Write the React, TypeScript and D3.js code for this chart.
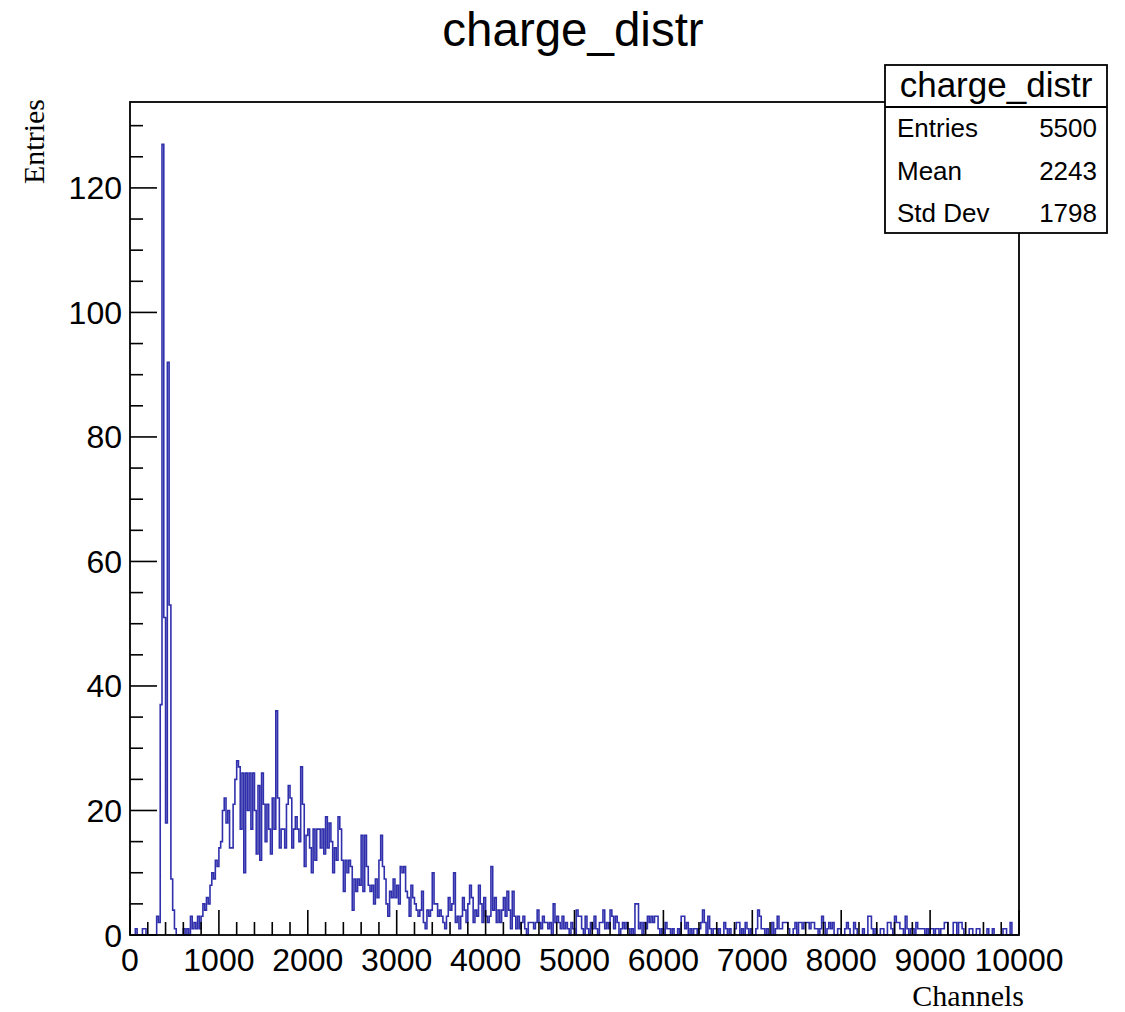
import React from "react";
import * as d3 from "d3";

// Histogram "charge_distr": 500 bins of width 20 over 0..10000 channels.
const X_MIN = 0;
const X_MAX = 10000;
const BIN_WIDTH = 20;

const counts0to1k = [
  0, 0, 0, 1, 0, 0, 0, 1, 1, 0,
  0, 0, 0, 0, 0, 3, 2, 37, 127, 51,
  18, 92, 53, 9, 4, 1, 0, 0, 0, 0,
  1, 0, 1, 0, 3, 1, 2, 1, 3, 1,
  3, 5, 4, 6, 5, 8, 10, 9, 12, 11,
];
const counts1to2k = [
  14, 15, 20, 22, 18, 20, 14, 14, 21, 25,
  28, 27, 17, 26, 10, 26, 20, 26, 17, 26,
  20, 13, 24, 12, 26, 21, 15, 21, 17, 13,
  22, 17, 36, 22, 14, 17, 17, 14, 21, 24,
  22, 14, 17, 19, 17, 15, 27, 21, 11, 16,
];
const counts2to3k = [
  17, 14, 10, 17, 12, 17, 17, 14, 17, 13,
  19, 14, 18, 15, 10, 14, 12, 19, 17, 12,
  7, 12, 10, 12, 11, 4, 9, 7, 9, 8,
  16, 7, 16, 11, 8, 7, 8, 5, 9, 6,
  12, 16, 11, 9, 5, 3, 7, 6, 9, 6,
];
const counts3to4k = [
  8, 5, 11, 10, 11, 7, 6, 3, 8, 6,
  5, 4, 3, 4, 7, 2, 1, 4, 3, 4,
  10, 5, 5, 3, 4, 3, 2, 1, 3, 6,
  4, 5, 10, 2, 3, 1, 3, 6, 4, 2,
  5, 8, 6, 2, 4, 3, 8, 5, 2, 6,
];
const counts4to5k = [
  3, 2, 3, 11, 4, 6, 2, 4, 2, 4,
  6, 3, 7, 4, 1, 7, 3, 1, 3, 1,
  2, 3, 1, 0, 2, 2, 2, 1, 2, 4,
  2, 1, 3, 2, 2, 1, 2, 0, 5, 2,
  3, 2, 1, 3, 1, 2, 1, 0, 2, 1,
];
const counts5to6k = [
  0, 4, 3, 3, 1, 0, 3, 1, 0, 2,
  1, 3, 1, 0, 2, 2, 4, 1, 2, 1,
  4, 3, 1, 3, 2, 0, 1, 2, 1, 2,
  1, 0, 1, 0, 5, 5, 1, 2, 0, 2,
  1, 3, 2, 3, 2, 3, 3, 1, 0, 1,
];
const counts6to7k = [
  0, 2, 1, 1, 0, 1, 0, 0, 1, 0,
  3, 3, 1, 2, 0, 1, 0, 1, 1, 0,
  1, 2, 4, 2, 0, 3, 1, 0, 1, 1,
  0, 1, 0, 0, 2, 1, 0, 1, 0, 0,
  1, 2, 2, 0, 1, 0, 2, 1, 0, 1,
];
const counts7to8k = [
  0, 0, 1, 4, 3, 1, 1, 0, 1, 0,
  0, 2, 0, 1, 3, 1, 1, 2, 2, 2,
  1, 0, 0, 1, 2, 0, 2, 2, 1, 2,
  2, 2, 1, 2, 2, 1, 1, 0, 1, 3,
  2, 0, 1, 2, 1, 2, 0, 0, 1, 1,
];
const counts8to9k = [
  0, 0, 1, 2, 1, 0, 0, 2, 1, 0,
  0, 0, 1, 0, 0, 3, 3, 1, 0, 1,
  0, 0, 1, 1, 0, 0, 2, 2, 1, 0,
  3, 2, 2, 1, 1, 0, 3, 1, 0, 1,
  1, 0, 2, 1, 1, 1, 1, 0, 1, 0,
];
const counts9to10k = [
  1, 1, 0, 1, 1, 0, 1, 1, 2, 2,
  0, 0, 0, 2, 2, 0, 2, 2, 1, 0,
  0, 0, 1, 1, 0, 0, 1, 1, 0, 0,
  0, 0, 1, 0, 0, 1, 0, 0, 0, 0,
  0, 1, 1, 0, 0, 2, 0, 0, 0, 0,
];

const binCounts = [
  ...counts0to1k, ...counts1to2k, ...counts2to3k, ...counts3to4k, ...counts4to5k,
  ...counts5to6k, ...counts6to7k, ...counts7to8k, ...counts8to9k, ...counts9to10k,
];

const Y_MAX = 133.8;
const xMajorTicks = [0, 1000, 2000, 3000, 4000, 5000, 6000, 7000, 8000, 9000, 10000];
const yMajorTicks = [0, 20, 40, 60, 80, 100, 120];

const titleText = "charge_distr";
const xTitle = "Channels";
const yTitle = "Entries";
const statsName = "charge_distr";
const statsLabels = ["Entries", "Mean", "Std Dev"];
const statsValues = ["5500", "2243", "1798"];

const W = 1125;
const H = 1012;
const frame = { left: 130, right: 1019, top: 102, bottom: 935 };
const SANS = "'Liberation Sans', Arial, Helvetica, sans-serif";
const SERIF = "'Liberation Serif', 'Times New Roman', serif";

export default function App() {
  const x = d3.scaleLinear().domain([X_MIN, X_MAX]).range([frame.left, frame.right]);
  const y = d3.scaleLinear().domain([0, Y_MAX]).range([frame.bottom, frame.top]);

  // Step outline of the histogram
  const pts: [number, number][] = [[x(X_MIN), y(0)]];
  binCounts.forEach((c, i) => {
    const lo = X_MIN + i * BIN_WIDTH;
    pts.push([x(lo), y(c)]);
    pts.push([x(lo + BIN_WIDTH), y(c)]);
  });
  pts.push([x(X_MAX), y(0)]);
  const path = d3.line()(pts) || "";

  const xMinor = d3.range(X_MIN, X_MAX + 1, 200).filter((v) => v % 1000 !== 0);
  const yMinor = d3.range(0, Y_MAX, 5).filter((v) => v % 20 !== 0);

  const box = { x: 885, y: 65, w: 222, h: 168, head: 42 };
  const rowBaselines = [137, 180, 222];

  return (
    <svg
      width={W}
      height={H}
      viewBox={`0 0 ${W} ${H}`}
      style={{ position: "absolute", left: 0, top: 0, background: "#fff" }}
    >
      <rect x={0} y={0} width={W} height={H} fill="#fff" />
      <text x={573} y={46} textAnchor="middle" fontFamily={SANS} fontSize={47.5} fill="#000">
        {titleText}
      </text>

      {/* histogram */}
      <path d={path} fill="none" stroke="#3030ad" strokeWidth={1.6} strokeLinejoin="miter" />

      {/* frame */}
      <rect
        x={frame.left}
        y={frame.top}
        width={frame.right - frame.left}
        height={frame.bottom - frame.top}
        fill="none"
        stroke="#000"
        strokeWidth={1.8}
      />

      {/* x axis ticks */}
      {xMajorTicks.map((v) => (
        <line key={`xM${v}`} x1={x(v)} x2={x(v)} y1={frame.bottom} y2={frame.bottom - 25} stroke="#000" strokeWidth={1.6} />
      ))}
      {xMinor.map((v) => (
        <line key={`xm${v}`} x1={x(v)} x2={x(v)} y1={frame.bottom} y2={frame.bottom - 13} stroke="#000" strokeWidth={1.6} />
      ))}
      {xMajorTicks.map((v) => (
        <text key={`xl${v}`} x={x(v)} y={971} textAnchor="middle" fontFamily={SANS} fontSize={32} fill="#000">
          {v}
        </text>
      ))}

      {/* y axis ticks */}
      {yMajorTicks.map((v) => (
        <line key={`yM${v}`} x1={frame.left} x2={frame.left + 27} y1={y(v)} y2={y(v)} stroke="#000" strokeWidth={1.6} />
      ))}
      {yMinor.map((v) => (
        <line key={`ym${v}`} x1={frame.left} x2={frame.left + 13} y1={y(v)} y2={y(v)} stroke="#000" strokeWidth={1.6} />
      ))}
      {yMajorTicks.map((v) => (
        <text key={`yl${v}`} x={122} y={y(v) + 11.5} textAnchor="end" fontFamily={SANS} fontSize={32} fill="#000">
          {v}
        </text>
      ))}

      {/* axis titles */}
      <text x={1024} y={1006} textAnchor="end" fontFamily={SERIF} fontSize={30} fill="#000">
        {xTitle}
      </text>
      <text
        transform={`translate(44, 99) rotate(-90)`}
        textAnchor="end"
        fontFamily={SERIF}
        fontSize={30}
        fill="#000"
      >
        {yTitle}
      </text>

      {/* statistics box */}
      <rect x={box.x} y={box.y} width={box.w} height={box.h} fill="#fff" stroke="#000" strokeWidth={1.8} />
      <line x1={box.x} x2={box.x + box.w} y1={box.y + box.head} y2={box.y + box.head} stroke="#000" strokeWidth={1.8} />
      <text x={box.x + box.w / 2} y={97} textAnchor="middle" fontFamily={SANS} fontSize={35} fill="#000">
        {statsName}
      </text>
      {statsLabels.map((lab, i) => (
        <g key={lab}>
          <text x={897} y={rowBaselines[i]} fontFamily={SANS} fontSize={26} fill="#000">
            {lab}
          </text>
          <text x={1097} y={rowBaselines[i]} textAnchor="end" fontFamily={SANS} fontSize={26} fill="#000">
            {statsValues[i]}
          </text>
        </g>
      ))}
    </svg>
  );
}
